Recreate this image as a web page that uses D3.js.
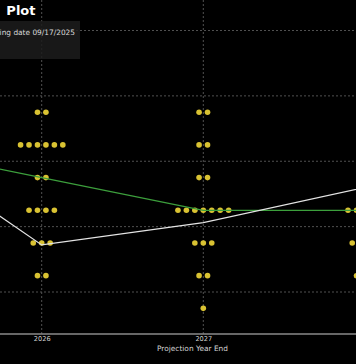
<!DOCTYPE html>
<html>
<head>
<meta charset="utf-8">
<script src="https://cdn.jsdelivr.net/npm/d3@7"></script>
<style>
  html, body { margin: 0; padding: 0; background: #000; overflow: hidden; }
  svg { display: block; }
</style>
</head>
<body>
<svg id="chart" width="356" height="364"></svg>
<script>
// ---- data ----
const years = ["2025", "2026", "2027", "2028", "Longer run"];
const tickYears = ["2026", "2027"];
const gridRates = [2.5, 3.0, 3.5, 4.0, 4.5];

const rates2025 = [4.375, 4.125, 3.875, 3.625, 2.875];
const counts2025 = [1, 6, 2, 9, 1];
const rates2026 = [3.875, 3.625, 3.375, 3.125, 2.875, 2.625];
const counts2026 = [2, 6, 2, 4, 3, 2];
const rates2027 = [3.875, 3.625, 3.375, 3.125, 2.875, 2.625, 2.375];
const counts2027 = [2, 2, 2, 7, 3, 2, 1];
const rates2028 = [3.875, 3.625, 3.375, 3.125, 2.875, 2.625, 2.375];
const counts2028 = [2, 2, 2, 5, 4, 3, 1];

const medianYears = ["2025", "2026", "2027", "2028", "Longer run"];
const medianValues = [3.625, 3.375, 3.125, 3.125, 3.0];
const marketYears = ["2025", "2026", "2027", "2028"];
const marketValues = [3.71, 2.86, 3.03, 3.30];

// texts as they appear in the (cropped) reference
const titleText = "Plot";
const meetingText = "ing date 09/17/2025";
const xAxisTitle = "Projection Year End";

// ---- layout ----
const W = 356, H = 364;
const plotBottom = 334;
const svg = d3.select("#chart");

const x = d3.scalePoint().domain(years).range([-119.9, -119.9 + 4 * 161.6]);
const y = d3.scaleLinear().domain([2.5, 4.5]).range([292, 30.5]);
const dotStep = 8.45;

// gridlines
svg.append("g").selectAll("line.h").data(gridRates).join("line")
  .attr("x1", 0).attr("x2", W)
  .attr("y1", d => y(d)).attr("y2", d => y(d))
  .attr("stroke", "#505050").attr("stroke-width", 1)
  .attr("stroke-dasharray", "2,2");

svg.append("g").selectAll("line.v").data(years).join("line")
  .attr("x1", d => x(d)).attr("x2", d => x(d))
  .attr("y1", 0).attr("y2", plotBottom)
  .attr("stroke", "#505050").attr("stroke-width", 1)
  .attr("stroke-dasharray", "2,2");

// dots
const dotSets = [
  ["2025", rates2025, counts2025],
  ["2026", rates2026, counts2026],
  ["2027", rates2027, counts2027],
  ["2028", rates2028, counts2028]
];
const dots = [];
dotSets.forEach(([yr, rates, counts]) => {
  rates.forEach((r, i) => {
    const n = counts[i];
    for (let k = 0; k < n; k++) {
      dots.push({ yr, r, off: (k - (n - 1) / 2) * dotStep });
    }
  });
});
svg.append("g").selectAll("circle").data(dots).join("circle")
  .attr("cx", d => x(d.yr) + d.off)
  .attr("cy", d => y(d.r))
  .attr("r", 2.8)
  .attr("fill", "#d9c232");

// lines
const medData = medianYears.map((yr, i) => ({ yr, v: medianValues[i] }));
const mktData = marketYears.map((yr, i) => ({ yr, v: marketValues[i] }));
const line = d3.line().x(d => x(d.yr)).y(d => y(d.v));

svg.append("path").datum(medData)
  .attr("d", line).attr("fill", "none")
  .attr("stroke", "#3c9f3c").attr("stroke-width", 1.3);

svg.append("path").datum(mktData)
  .attr("d", line).attr("fill", "none")
  .attr("stroke", "#e4e4e4").attr("stroke-width", 1.2);

// x axis
const xAxis = d3.axisBottom(x).tickValues(tickYears).tickSize(0).tickPadding(2);
const gx = svg.append("g").attr("transform", `translate(0,${plotBottom})`).call(xAxis);
gx.select(".domain").remove();
gx.selectAll("text")
  .attr("fill", "#d0d0d0")
  .style("font-family", "DejaVu Sans, sans-serif")
  .style("font-size", "6.6px");
svg.append("line")
  .attr("x1", 0).attr("x2", W)
  .attr("y1", plotBottom).attr("y2", plotBottom)
  .attr("stroke", "#8a8a8a").attr("stroke-width", 1.3);

svg.append("text")
  .attr("x", 192.5).attr("y", 351)
  .attr("text-anchor", "middle")
  .attr("fill", "#d6d6d6")
  .style("font-family", "DejaVu Sans, sans-serif")
  .style("font-size", "7.4px")
  .text(xAxisTitle);

// info box
svg.append("rect")
  .attr("x", 0).attr("y", 21).attr("width", 80).attr("height", 38)
  .attr("fill", "rgb(28,28,28)").attr("fill-opacity", 0.85);
svg.append("text")
  .attr("x", 75).attr("y", 34.5)
  .attr("text-anchor", "end")
  .attr("fill", "#d8d8d8")
  .style("font-family", "DejaVu Sans, sans-serif")
  .style("font-size", "7.4px")
  .text(meetingText);

// title
svg.append("text")
  .attr("x", 35.5).attr("y", 14.5)
  .attr("text-anchor", "end")
  .attr("fill", "#ffffff")
  .style("font-family", "DejaVu Sans, sans-serif")
  .style("font-weight", "bold")
  .style("font-size", "13px")
  .text(titleText);
</script>
</body>
</html>
